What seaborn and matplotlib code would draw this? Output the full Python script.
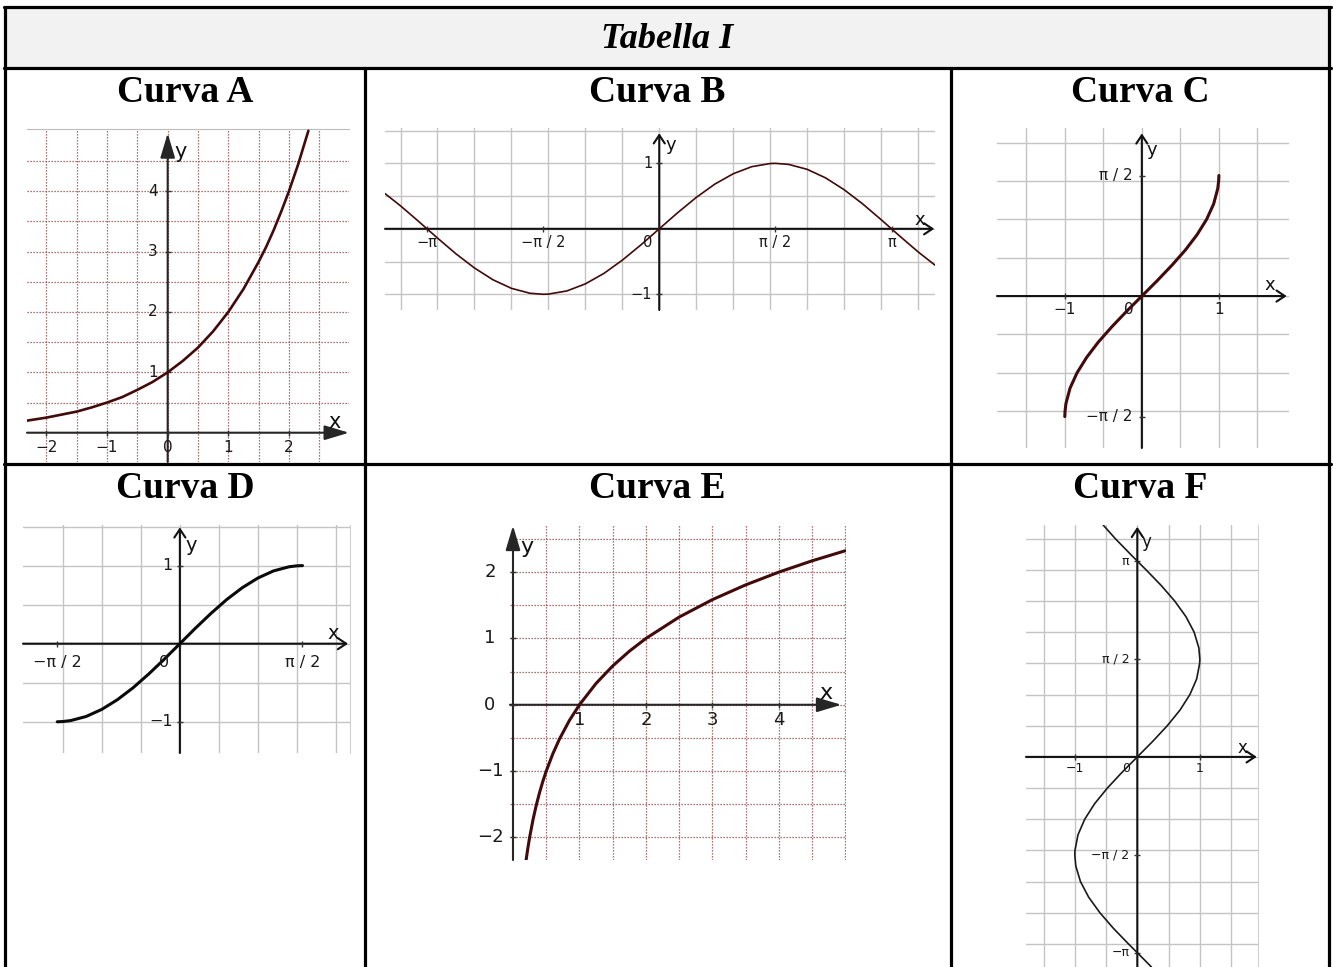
import numpy as np
import matplotlib
matplotlib.use("Agg")
import matplotlib.pyplot as plt
import seaborn as sns

# curve samples
a_x = [-2.32, -2.0, -1.75, -1.5, -1.25, -1.0, -0.75, -0.5, -0.25, 0.0, 0.25, 0.5, 0.75,
       1.0, 1.25, 1.5, 1.625, 1.75, 1.875, 2.0, 2.15, 2.32]
a_y = [0.2, 0.25, 0.3, 0.35, 0.42, 0.5, 0.59, 0.71, 0.84, 1.0, 1.19, 1.41, 1.68,
       2.0, 2.38, 2.83, 3.08, 3.36, 3.67, 4.0, 4.44, 5.0]

b_x = [-3.71, -3.5, -3.25, -3.0, -2.75, -2.5, -2.25, -2.0, -1.75, -1.57, -1.5, -1.25,
       -1.0, -0.75, -0.5, -0.25, 0.0, 0.25, 0.5, 0.75, 1.0, 1.25, 1.5, 1.57, 1.75,
       2.0, 2.25, 2.5, 2.75, 3.0, 3.25, 3.5, 3.73]
b_y = [0.538, 0.351, 0.108, -0.141, -0.382, -0.598, -0.778, -0.909, -0.984, -1.0, -0.997,
       -0.949, -0.841, -0.682, -0.479, -0.247, 0.0, 0.247, 0.479, 0.682, 0.841, 0.949,
       0.997, 1.0, 0.984, 0.909, 0.778, 0.598, 0.382, 0.141, -0.108, -0.351, -0.555]

c_x = [-1.0, -0.997, -0.985, -0.932, -0.841, -0.717, -0.565, -0.389, -0.199, 0.0,
       0.199, 0.389, 0.565, 0.717, 0.841, 0.932, 0.985, 0.997, 1.0]
c_y = [-1.571, -1.5, -1.4, -1.2, -1.0, -0.8, -0.6, -0.4, -0.2, 0.0,
       0.2, 0.4, 0.6, 0.8, 1.0, 1.2, 1.4, 1.5, 1.571]

d_x = [-1.571, -1.5, -1.4, -1.2, -1.0, -0.8, -0.6, -0.4, -0.2, 0.0,
       0.2, 0.4, 0.6, 0.8, 1.0, 1.2, 1.4, 1.5, 1.571]
d_y = [-1.0, -0.997, -0.985, -0.932, -0.841, -0.717, -0.565, -0.389, -0.199, 0.0,
       0.199, 0.389, 0.565, 0.717, 0.841, 0.932, 0.985, 0.997, 1.0]

e_x = [0.197, 0.22, 0.25, 0.3, 0.35, 0.4, 0.45, 0.5, 0.6, 0.7, 0.85, 1.0, 1.25, 1.5,
       1.75, 2.0, 2.5, 3.0, 3.5, 4.0, 4.5, 5.0]
e_y = [-2.344, -2.184, -2.0, -1.737, -1.515, -1.322, -1.152, -1.0, -0.737, -0.515,
       -0.234, 0.0, 0.322, 0.585, 0.807, 1.0, 1.322, 1.585, 1.807, 2.0, 2.17, 2.322]

f_y = [-3.37, -3.25, -3.0, -2.75, -2.5, -2.25, -2.0, -1.75, -1.57, -1.5, -1.25, -1.0,
       -0.75, -0.5, -0.25, 0.0, 0.25, 0.5, 0.75, 1.0, 1.25, 1.5, 1.57, 1.75, 2.0,
       2.25, 2.5, 2.75, 3.0, 3.25, 3.5, 3.72]
f_x = [0.226, 0.108, -0.141, -0.382, -0.598, -0.778, -0.909, -0.984, -1.0, -0.997,
       -0.949, -0.841, -0.682, -0.479, -0.247, 0.0, 0.247, 0.479, 0.682, 0.841, 0.949,
       0.997, 1.0, 0.984, 0.909, 0.778, 0.598, 0.382, 0.141, -0.108, -0.351, -0.546]

# tick labels
PI = 3.1416
a_xticks, a_xlabels = [-2, -1, 0, 1, 2], ['−2', '−1', '0', '1', '2']
a_yticks, a_ylabels = [1, 2, 3, 4], ['1', '2', '3', '4']
b_xticks, b_xlabels = [-PI, -PI / 2, 0, PI / 2, PI], ['−π', '−π / 2', '0', 'π / 2', 'π']
b_yticks, b_ylabels = [1, -1], ['1', '−1']
c_xticks, c_xlabels = [-1, 0, 1], ['−1', '0', '1']
c_yticks, c_ylabels = [PI / 2, -PI / 2], ['π / 2', '−π / 2']
d_xticks, d_xlabels = [-PI / 2, 0, PI / 2], ['−π / 2', '0', 'π / 2']
d_yticks, d_ylabels = [1, -1], ['1', '−1']
e_xticks, e_xlabels = [1, 2, 3, 4], ['1', '2', '3', '4']
e_yticks, e_ylabels = [2, 1, 0, -1, -2], ['2', '1', '0', '−1', '−2']
f_xticks, f_xlabels = [-1, 0, 1], ['−1', '0', '1']
f_yticks, f_ylabels = [PI, PI / 2, -PI / 2, -PI], ['π', 'π / 2', '−π / 2', '−π']

titles = ['Curva A', 'Curva B', 'Curva C', 'Curva D', 'Curva E', 'Curva F']

sns.set_style('white')
plt.rcParams['font.family'] = ['DejaVu Sans']
plt.rcParams['text.color'] = 'black'

W, H = 1333, 967
fig = plt.figure(figsize=(W / 100, H / 100), dpi=100)
MAROON = '#420a0a'

# table in pixel coordinates
bg = fig.add_axes([0, 0, 1, 1])
bg.set_xlim(0, W)
bg.set_ylim(H, 0)
bg.axis('off')
bg.fill_between([5, 1329], 7, 67.5, color='#f2f2f2', lw=0)
tlw = 2.3
bg.plot([3.5, 1330.5], [7, 7], color='k', lw=tlw)
bg.plot([3.5, 1330.5], [67.5, 67.5], color='k', lw=tlw)
bg.plot([3.5, 1330.5], [464, 464], color='k', lw=tlw)
bg.plot([5, 5], [7, H], color='k', lw=tlw)
bg.plot([1329, 1329], [7, H], color='k', lw=tlw)
bg.plot([365, 365], [67.5, H], color='k', lw=tlw)
bg.plot([950.5, 950.5], [67.5, H], color='k', lw=tlw)
bg.text(667, 39, 'Tabella I', ha='center', va='center', fontsize=26, color='black',
        fontweight='bold', fontstyle='italic', family='Liberation Serif')
centers = [185, 657, 1140]
for i, t in enumerate(titles):
    bg.text(centers[i % 3], 92 if i < 3 else 488, t, ha='center', va='center',
            fontsize=27, fontweight='bold', family='Liberation Serif', color='black')


def panel(box, dotted):
    x0, y0, x1, y1 = box
    ax = fig.add_axes([x0 / W, 1 - y1 / H, (x1 - x0) / W, (y1 - y0) / H])
    ax.set_facecolor('none')
    for s in ax.spines.values():
        s.set_visible(False)
    ax.tick_params(length=0, labelbottom=False, labelleft=False)
    if dotted:
        ax.grid(True, color='#8e4646', lw=0.9, linestyle=(0, (1, 1.4)))
    else:
        ax.grid(True, color='#c4c4c4', lw=1.0)
    ax.set_axisbelow(True)
    return ax


def finish(ax, xlim, ylim, gx, gy, tips, filled, color):
    ax.set_xlim(xlim)
    ax.set_ylim(ylim)
    ax.set_xticks(gx)
    ax.set_yticks(gy)
    if filled:
        style = '-|>,head_length=1.5,head_width=0.45'
    else:
        style = '->,head_length=0.6,head_width=0.4'
    props = dict(arrowstyle=style, color=color, lw=1.5, mutation_scale=10,
                 shrinkA=0, shrinkB=0)
    ax.annotate('', xy=(tips[0], 0), xytext=(xlim[0], 0), arrowprops=props, zorder=2)
    ax.annotate('', xy=(0, tips[1]), xytext=(0, ylim[0]), arrowprops=props, zorder=2)


def labels(ax, xt, xl, yt, yl, fs, xdy, ydx, zero_dx=None, yha='right', tips=None,
           xoff=(-14, 10), yoff=(11, -15), afs=13):
    for t, lab in zip(xt, xl):
        dx = zero_dx if (lab == '0' and zero_dx is not None) else 0
        ax.annotate(lab, (t, 0), xytext=(dx, xdy), textcoords='offset pixels',
                    ha='center', va='center', fontsize=fs, color='#1a1a1a')
    for t, lab in zip(yt, yl):
        ax.annotate(lab, (0, t), xytext=(ydx, 0), textcoords='offset pixels',
                    ha=yha, va='center', fontsize=fs, color='#1a1a1a')
    ax.plot(xt, [0] * len(xt), ls='none', marker='|', ms=5, mew=1, color='#333')
    ax.plot([0] * len(yt), yt, ls='none', marker='_', ms=5, mew=1, color='#333')
    ax.annotate('x', (tips[0], 0), xytext=xoff, textcoords='offset pixels',
                ha='center', va='center', fontsize=afs, color='#111')
    ax.annotate('y', (0, tips[1]), xytext=yoff, textcoords='offset pixels',
                ha='center', va='center', fontsize=afs, color='#111')


# Curva A
ax = panel((27, 129, 349, 462), True)
sns.lineplot(x=a_x, y=a_y, ax=ax, color=MAROON, lw=1.9, estimator=None, sort=False, zorder=3)
ax.spines['top'].set_visible(True)
ax.spines['top'].set_color('#bbbbbb')
finish(ax, (-2.32, 2.99), (-0.485, 5.03), np.arange(-2, 2.6, 0.5), np.arange(0.5, 4.6, 0.5),
       (2.99, 4.96), True, '#262626')
labels(ax, a_xticks, a_xlabels, a_yticks, a_ylabels, 11, -15, -10, tips=(2.99, 4.96),
       xoff=(-14, 11), yoff=(13, -19), afs=15)

# Curva B
ax = panel((385, 128, 935, 310), False)
sns.lineplot(x=b_x, y=b_y, ax=ax, color=MAROON, lw=1.2, estimator=None, sort=False, zorder=3)
finish(ax, (-3.71, 3.73), (-1.24, 1.54), np.arange(-3.5, 3.6, 0.5), np.arange(-1, 1.6, 0.5),
       (3.72, 1.46), False, '#111')
labels(ax, b_xticks, b_xlabels, b_yticks, b_ylabels, 10.5, -14, -7, zero_dx=-12,
       tips=(3.72, 1.46), xoff=(-14, 9), yoff=(12, -12))

# Curva C
ax = panel((997, 128, 1289, 448), False)
sns.lineplot(x=c_x, y=c_y, ax=ax, color=MAROON, lw=2.2, estimator=None, sort=False, zorder=3)
finish(ax, (-1.88, 1.91), (-1.98, 2.19), np.arange(-1.5, 1.6, 0.5), np.arange(-1.5, 2.1, 0.5),
       (1.88, 2.12), False, '#111')
labels(ax, c_xticks, c_xlabels, c_yticks, c_ylabels, 11, -13, -9, zero_dx=-13,
       tips=(1.88, 2.12), xoff=(-17, 11), yoff=(10, -17))

# Curva D
ax = panel((23, 525, 350, 753), False)
sns.lineplot(x=d_x, y=d_y, ax=ax, color='#0a0a0a', lw=2.2, estimator=None, sort=False, zorder=3)
ax.spines['right'].set_visible(True)
ax.spines['right'].set_color('#d0d0d0')
finish(ax, (-2.01, 2.18), (-1.40, 1.52), np.arange(-1.5, 2.1, 0.5), np.arange(-1, 1.6, 0.5),
       (2.155, 1.49), False, '#111')
labels(ax, d_xticks, d_xlabels, d_yticks, d_ylabels, 11.5, -19, -7, zero_dx=-16,
       tips=(2.155, 1.49), xoff=(-15, 10), yoff=(11, -18), afs=14)

# Curva E
ax = panel((510, 525, 846, 860), True)
sns.lineplot(x=e_x, y=e_y, ax=ax, color=MAROON, lw=2.2, estimator=None, sort=False, zorder=3)
finish(ax, (-0.045, 5.01), (-2.34, 2.71), np.arange(0.5, 5.1, 0.5), np.arange(-2, 2.6, 0.5),
       (4.94, 2.70), True, '#262626')
labels(ax, e_xticks, e_xlabels, e_yticks, e_ylabels, 13, -15, -23, yha='center',
       tips=(4.94, 2.70), xoff=(-15, 12), yoff=(14, -21), afs=16)

# Curva F
ax = panel((1026, 525, 1258, 967), False)
sns.lineplot(x=f_x, y=f_y, ax=ax, color='#1a1a1a', lw=1.2, estimator=None, sort=False, zorder=3)
ax.spines['right'].set_visible(True)
ax.spines['right'].set_color('#d0d0d0')
finish(ax, (-1.78, 1.93), (-3.37, 3.72), np.arange(-1.5, 1.6, 0.5), np.arange(-3, 3.6, 0.5),
       (1.91, 3.69), False, '#111')
labels(ax, f_xticks, f_xlabels, f_yticks, f_ylabels, 9, -12, -8, zero_dx=-11,
       tips=(1.91, 3.69), xoff=(-14, 9), yoff=(9, -15), afs=12)

fig.savefig('out.png', dpi=100)
